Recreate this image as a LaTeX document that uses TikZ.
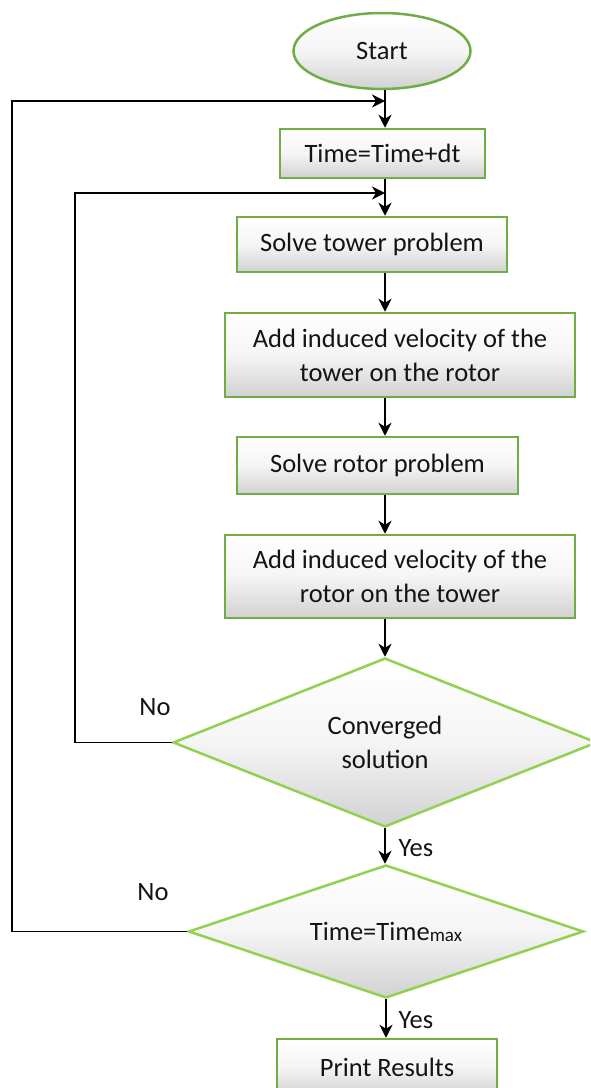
\documentclass[tikz,border=0pt]{standalone}
\usepackage{fontspec}
\setmainfont{Carlito}
\usetikzlibrary{shapes.geometric,arrows.meta}
\definecolor{boxgreen}{RGB}{112,173,71}
\definecolor{diagreen}{RGB}{146,208,80}
\begin{document}
\begin{tikzpicture}[x=1pt,y=-1pt,
  txt/.style={font=\fontsize{26.5}{34}\selectfont, text=black!92},
  shade/.style={top color=white, bottom color=black!18, middle color=black!4},
  box/.style={txt, draw=boxgreen, line width=2.5pt, shade, inner sep=0pt, align=center},
  ell/.style={box, ellipse},
  dia/.style={txt, diamond, aspect=3, draw=diagreen, line width=2.5pt, shade, inner sep=0pt, align=center},
  lbl/.style={txt, inner sep=0pt},
  conn/.style={line width=1.8pt, -{Stealth[length=13pt,width=13pt,inset=4pt]}}]
\useasboundingbox (0,0) rectangle (590,1088);
\clip (0,0) rectangle (590,1088);
\coordinate (ax) at (385,0);
\node[ell, minimum width=177pt, minimum height=76pt] (start) at (382,51) {Start};
\node[box, minimum width=205pt, minimum height=49pt] (tb) at (382.5,153.5) {Time=Time+dt};
\node[box, minimum width=270pt, minimum height=55pt] (st) at (372,244.5) {Solve tower problem};
\node[box, minimum width=350pt, minimum height=84pt] (a1) at (400,355) {Add induced velocity of the\\tower on the rotor};
\node[box, minimum width=281pt, minimum height=57pt] (sr) at (377.5,465.5) {Solve rotor problem};
\node[box, minimum width=350pt, minimum height=83pt] (a2) at (400,576.5) {Add induced velocity of the\\rotor on the tower};
\node[dia, minimum width=424pt, minimum height=169pt] (d1) at (385,742.5) {Converged\\solution};
\node[dia, minimum width=395pt, minimum height=133pt] (d2) at (386,931.5) {Time=Time\raisebox{-1pt}{\fontsize{19}{19}\selectfont max}};
\node[box, minimum width=220pt, minimum height=56pt] (pr) at (387,1067) {Print Results};
\node[lbl] (no1) at (155,707) {No};
\node[lbl] (yes1) at (416,848) {Yes};
\node[lbl] (no2) at (153,892) {No};
\node[lbl] (yes2) at (416,1020) {Yes};
\coordinate (ol) at (12,101);
\coordinate (il) at (75,193);
\draw[conn] (start.south -| ax) -- (tb.north -| ax);
\draw[conn] (tb.south -| ax) -- (st.north -| ax);
\draw[conn] (st.south -| ax) -- (a1.north -| ax);
\draw[conn] (a1.south -| ax) -- (sr.north -| ax);
\draw[conn] (sr.south -| ax) -- (a2.north -| ax);
\draw[conn] (a2.south -| ax) -- (d1.north);
\draw[conn] (d1.south) -- (d1.south |- d2.north);
\draw[conn] (d2.south) -- (d2.south |- pr.north);
\draw[conn] (d2.west) -- (d2.west -| ol) -- (ol) -- (ol -| ax);
\draw[conn] (d1.west) -- (d1.west -| il) -- (il) -- (il -| ax);
\end{tikzpicture}
\end{document}
